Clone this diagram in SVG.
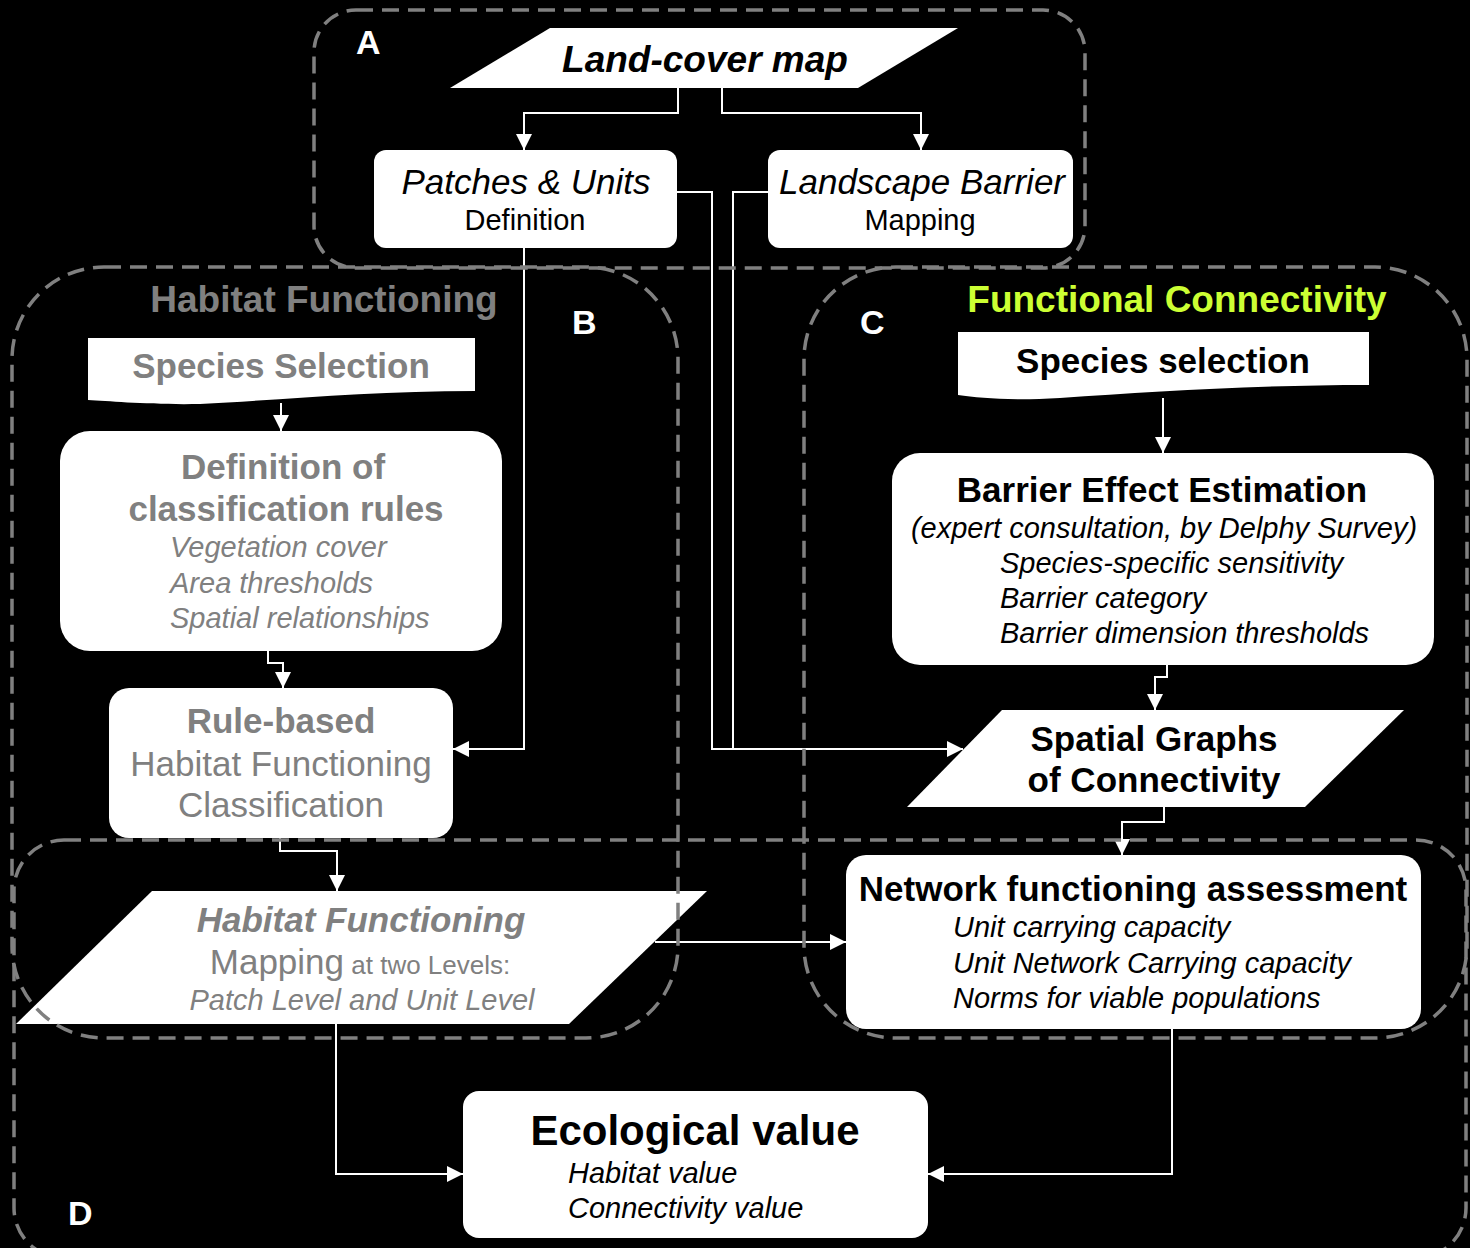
<svg xmlns="http://www.w3.org/2000/svg" width="1470" height="1248" viewBox="0 0 1470 1248">
<defs>
<marker id="arr" viewBox="0 0 10 10" refX="10" refY="5" markerWidth="16" markerHeight="16" markerUnits="userSpaceOnUse" orient="auto">
<path d="M0,0 L10,5 L0,10 z" fill="#fff"/>
</marker>
<style>
text{font-family:"Liberation Sans",Arial,sans-serif}
.node{fill:#fff;stroke:none}
.conn path{fill:none;stroke:#fff;stroke-width:2}
.region{fill:none;stroke:#808080;stroke-width:3.5;stroke-dasharray:17 9}
.g{fill:#808080}
.k{fill:#000}
.b{font-weight:bold}
.i{font-style:italic}
.mid{text-anchor:middle}
.lbl{fill:#fff;font-weight:bold;font-size:34px}
</style>
</defs>
<rect width="1470" height="1248" fill="#000"/>

<g id="land-cover-map">
<path class="node" d="M550,28 H958 L858,88 H450 Z"/>
<text x="705" y="72" class="k b i mid" font-size="37">Land-cover map</text>
</g>
<g id="patches-units">
<rect class="node" x="374" y="150" width="303" height="98" rx="12"/>
<text x="526" y="194" class="k i mid" font-size="35">Patches &amp; Units</text>
<text x="525" y="230" class="k mid" font-size="29">Definition</text>
</g>
<g id="landscape-barrier">
<rect class="node" x="768" y="150" width="305" height="98" rx="12"/>
<text x="922" y="194" class="k i mid" font-size="35">Landscape Barrier</text>
<text x="920" y="230" class="k mid" font-size="29">Mapping</text>
</g>

<g id="species-selection-b">
<path class="node" d="M88,338 H475 V391 C370,391 280,400 200,404 C150,405 110,401 88,400 Z"/>
<text x="281" y="378" class="g b mid" font-size="35">Species Selection</text>
</g>
<g id="classification-rules">
<rect class="node" x="60" y="431" width="442" height="220" rx="30"/>
<text x="283" y="479" class="g b mid" font-size="35">Definition of</text>
<text x="286" y="521" class="g b mid" font-size="35">classification rules</text>
<text x="170" y="557" class="g i" font-size="29">Vegetation cover</text>
<text x="170" y="593" class="g i" font-size="29">Area thresholds</text>
<text x="170" y="628" class="g i" font-size="29">Spatial relationships</text>
</g>
<g id="rule-based">
<rect class="node" x="109" y="688" width="344" height="150" rx="20"/>
<text x="281" y="733" class="g b mid" font-size="35">Rule-based</text>
<text x="281" y="776" class="g mid" font-size="35">Habitat Functioning</text>
<text x="281" y="817" class="g mid" font-size="35">Classification</text>
</g>
<g id="habitat-functioning-mapping">
<path class="node" d="M152,891 H707 L569,1024 H16 Z"/>
<text x="361" y="932" class="g b i mid" font-size="35">Habitat Functioning</text>
<text x="360" y="974" class="g mid" font-size="35">Mapping<tspan font-size="26"> at two Levels:</tspan></text>
<text x="362" y="1010" class="g i mid" font-size="29">Patch Level and Unit Level</text>
</g>

<g id="species-selection-c">
<path class="node" d="M958,332 H1369 V385 C1250,385 1150,392 1060,398 C1010,401 980,398 958,395 Z"/>
<text x="1163" y="373" class="k b mid" font-size="35">Species selection</text>
</g>
<g id="barrier-effect">
<rect class="node" x="892" y="453" width="542" height="212" rx="28"/>
<text x="1162" y="502" class="k b mid" font-size="35">Barrier Effect Estimation</text>
<text x="1164" y="538" class="k i mid" font-size="29">(expert consultation, by Delphy Survey)</text>
<text x="1000" y="573" class="k i" font-size="29">Species-specific sensitivity</text>
<text x="1000" y="608" class="k i" font-size="29">Barrier category</text>
<text x="1000" y="643" class="k i" font-size="29">Barrier dimension thresholds</text>
</g>
<g id="spatial-graphs">
<path class="node" d="M1002,710 H1404 L1305,807 H907 Z"/>
<text x="1154" y="751" class="k b mid" font-size="35">Spatial Graphs</text>
<text x="1154" y="792" class="k b mid" font-size="35">of Connectivity</text>
</g>
<g id="network-functioning">
<rect class="node" x="846" y="855" width="575" height="174" rx="20"/>
<text x="1133" y="901" class="k b mid" font-size="35">Network functioning assessment</text>
<text x="953" y="937" class="k i" font-size="29">Unit carrying capacity</text>
<text x="953" y="973" class="k i" font-size="29">Unit Network Carrying capacity</text>
<text x="953" y="1008" class="k i" font-size="29">Norms for viable populations</text>
</g>
<g id="ecological-value">
<rect class="node" x="463" y="1091" width="465" height="147" rx="16"/>
<text x="695" y="1145" class="k b mid" font-size="42">Ecological value</text>
<text x="568" y="1183" class="k i" font-size="29">Habitat value</text>
<text x="568" y="1218" class="k i" font-size="29">Connectivity value</text>
</g>

<g class="conn" id="connectors">
<path d="M678,88 V113 H524 V150" marker-end="url(#arr)"/>
<path d="M722,88 V113 H921 V150" marker-end="url(#arr)"/>
<path d="M524,248 V749 H453" marker-end="url(#arr)"/>
<path d="M677,192 H712 V749 H963" marker-end="url(#arr)"/>
<path d="M768,192 H733 V749"/>
<path d="M281,403 V431" marker-end="url(#arr)"/>
<path d="M268,651 V663 H283 V688" marker-end="url(#arr)"/>
<path d="M280,838 V851 H337 V891" marker-end="url(#arr)"/>
<path d="M1163,398 V453" marker-end="url(#arr)"/>
<path d="M1167,665 V677 H1155 V710" marker-end="url(#arr)"/>
<path d="M1164,807 V822 H1122 V855" marker-end="url(#arr)"/>
<path d="M655,942 H846" marker-end="url(#arr)"/>
<path d="M336,1024 V1174 H463" marker-end="url(#arr)"/>
<path d="M1172,1029 V1174 H928" marker-end="url(#arr)"/>
</g>

<g id="regions">
<rect class="region" x="314" y="10" width="771" height="258" rx="42"/>
<rect class="region" x="12" y="267" width="666" height="771" rx="92"/>
<rect class="region" x="804" y="267" width="663" height="771" rx="92"/>
<rect class="region" x="14" y="840" width="1452" height="418" rx="50"/>
<text x="324" y="312" class="g b mid" font-size="37">Habitat Functioning</text>
<text x="1177" y="312" class="b mid" font-size="37" fill="#ccff33">Functional Connectivity</text>
<text x="356" y="54" class="lbl">A</text>
<text x="572" y="334" class="lbl">B</text>
<text x="860" y="334" class="lbl">C</text>
<text x="68" y="1225" class="lbl">D</text>
</g>
</svg>
